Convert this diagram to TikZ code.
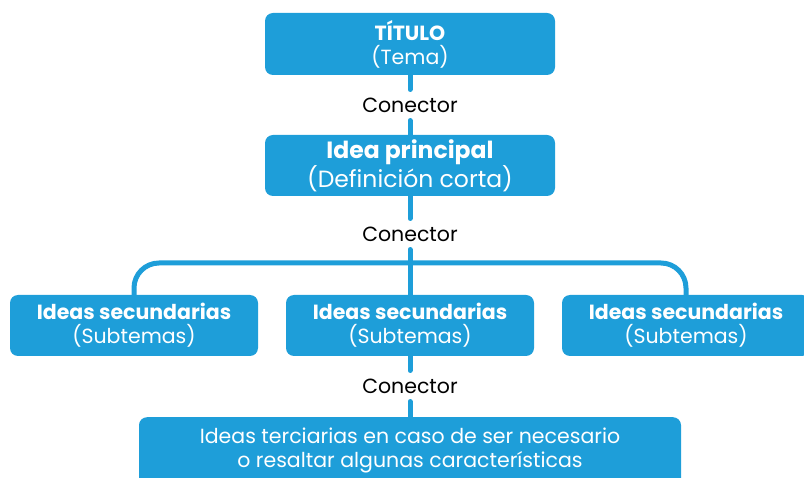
\documentclass[tikz,border=0pt]{standalone}
\usepackage{fontspec}
\setmainfont{Poppins}
\definecolor{boxblue}{HTML}{1E9ED9}
\begin{document}
\begin{tikzpicture}[x=1pt,y=-1pt,
  box/.style={fill=boxblue,rounded corners=8pt,inner sep=0pt,text=white,align=center,font=\fontsize{20.5}{24}\selectfont},
  conn/.style={text=black,inner sep=0pt,font=\fontsize{20.5}{22}\selectfont},
  link/.style={draw=boxblue,line width=5pt,line cap=round}]
\useasboundingbox (0,0) rectangle (804,478);
\node[box,minimum width=290pt,minimum height=62pt] (title) at (410,44) {\textbf{TÍTULO}\\(Tema)};
\node[conn] (c1) at (410,105) {Conector};
\node[box,minimum width=290pt,minimum height=61pt,font=\fontsize{23.5}{25}\selectfont] (idea) at (410,165.5) {\textbf{Idea principal}\\(Definición corta)};
\node[conn] (c2) at (410,234) {Conector};
\node[box,minimum width=248pt,minimum height=61pt] (left) at (134,325.5) {\textbf{Ideas secundarias}\\(Subtemas)};
\node[box,minimum width=248pt,minimum height=61pt] (mid) at (410,325.5) {\textbf{Ideas secundarias}\\(Subtemas)};
\node[box,minimum width=248pt,minimum height=61pt] (right) at (686,325.5) {\textbf{Ideas secundarias}\\(Subtemas)};
\node[conn] (c3) at (410,386) {Conector};
\node[box,minimum width=542pt,minimum height=70pt,anchor=north] (bottom) at (410,417) {};
\node[text=white,align=center,inner sep=0pt,font=\fontsize{20.5}{24}\selectfont] (btext) at (410,450) {Ideas terciarias en caso de ser necesario\\o resaltar algunas características};
\draw[link] (title.south) -- ([yshift=8pt]c1.north);
\draw[link] ([yshift=-8pt]c1.south) -- (idea.north);
\draw[link] (idea.south) -- ([yshift=8pt]c2.north);
\draw[link] ([yshift=-8pt]c2.south) -- (mid.north);
\draw[link,line cap=butt,rounded corners=25pt] (left.north) |- (410,263) -| (right.north);
\draw[link] (mid.south) -- ([yshift=8pt]c3.north);
\draw[link] ([yshift=-8pt]c3.south) -- (bottom.north);
\end{tikzpicture}
\end{document}
